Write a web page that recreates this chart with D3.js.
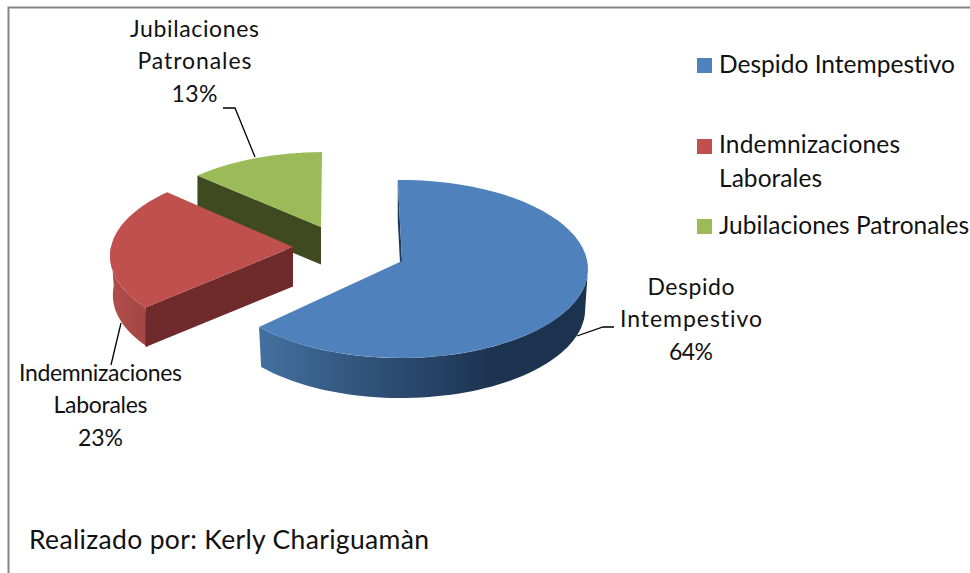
<!DOCTYPE html>
<html><head><meta charset="utf-8">
<script src="https://cdn.jsdelivr.net/npm/d3@7"></script>
<style>html,body{margin:0;padding:0;background:#fff}svg{display:block}text{font-family:Lato,"Open Sans",sans-serif;fill:#111;font-variant-ligatures:none}</style>
</head><body><svg id="c" width="970" height="573"></svg>
<script>
const categories = ["Despido Intempestivo","Indemnizaciones Laborales","Jubilaciones Patronales"];
const values = [64,23,13];
const legendLines = [["Despido Intempestivo"],["Indemnizaciones","Laborales"],["Jubilaciones Patronales"]];
const labelLines = [["Despido","Intempestivo"],["Indemnizaciones","Laborales"],["Jubilaciones","Patronales"]];
const topColors = ["#4f81bd","#c0504d","#9bbb59"];
const wallColors = ["#1f3a5c","#6f2b2c","#3f4a20"];

// per-slice projection of the exploded 3D pie
const geom = [
 {cx:401,cy:269,ax:402,ay:261,A:187,B:89,k:0,d:40},
 {cx:295,cy:247,ax:293,ay:247,A:184,B:87,k:.1,d:39.5},
 {cx:325,cy:227,ax:321,ay:227,A:180,B:80,k:.0675,d:37.5}
];
const rad = Math.PI/180;
const pie = d3.pie().sort(null).startAngle(-1*rad).endAngle(359*rad);
const arcs = pie(values);
const svg = d3.select("#c");
const line = d3.line();
function rim(g,t,low){
  const u=Math.sin(t), v=-Math.cos(t), w=1-g.k*v, s=low?.985:1;
  return [g.cx+s*g.A*u/w, g.cy+g.B*v/w+(low?g.d:0)];
}
function samples(a,b){return d3.range(0,61).map(i=>a+(b-a)*i/60);}

// frame
svg.append("path").attr("d",line([[8.5,573],[8.5,7.5],[970,7.5]])).attr("fill","none").attr("stroke","#868686").attr("stroke-width",2);

// gradients
const defs = svg.append("defs");
function grad(id,x1,x2,stops){
  const g=defs.append("linearGradient").attr("id",id).attr("gradientUnits","userSpaceOnUse")
    .attr("x1",x1).attr("x2",x2).attr("y1",0).attr("y2",0);
  stops.forEach(s=>g.append("stop").attr("offset",s[0]).attr("stop-color",s[1]));
}
grad("gb",261,588,[[0,"#43709f"],[.35,"#2f5078"],[.7,"#1d3451"],[1,"#1c3350"]]);
grad("gr",111,150,[[0,"#b24e4b"],[1,"#a04543"]]);

// draw back to front: green, red, blue
[2,1,0].forEach(i=>{
  const g=geom[i], a=arcs[i], s=a.startAngle, e=a.endAngle;
  const rs=rim(g,s);
  const G=svg.append("g").attr("class","slice");
  // outer wall
  if(i===0){
    const ts=samples(Math.PI/2,e);
    const pts=ts.map(t=>rim(g,t)).concat(ts.slice().reverse().map(t=>rim(g,t,true)));
    G.append("path").attr("d",line(pts)+"Z").attr("fill","url(#gb)");
  }
  if(i===1){
    const ts=samples(s,1.5*Math.PI);
    const pts=ts.map(t=>rim(g,t)).concat(ts.slice().reverse().map(t=>rim(g,t,true)));
    G.append("path").attr("d",line(pts)+"Z").attr("fill","url(#gr)");
  }
  // cut wall
  G.append("path").attr("d",line([rs,[g.ax,g.ay],[g.ax,g.ay+g.d],[rs[0],rs[1]+g.d]])+"Z").attr("fill",wallColors[i]);
  // top
  const top=[[g.ax,g.ay]].concat(samples(s,e).map(t=>rim(g,t)));
  G.append("path").attr("d",line(top)+"Z").attr("fill",topColors[i]);
});

// leaders
const leaders=[[[577,336],[603,327],[614,327]],[[121,323],[111,365]],[[223,108],[235,108],[255,157]]];
leaders.forEach(l=>svg.append("path").attr("d",line(l)).attr("fill","none").attr("stroke","#000").attr("stroke-width",1.3));

// data labels (text widths fitted to the reference)
const labelPos=[{x:691,y:[295,327,360],w:[87,142,44]},{x:100.5,y:[381,413,446],w:[163,94,45]},{x:194.5,y:[37,69,102],w:[129,114,46]}];
labelLines.forEach((ls,i)=>{
  ls.concat([d3.format(".0f")(values[i])+"%"]).forEach((t,j)=>{
    svg.append("text").attr("x",labelPos[i].x).attr("y",labelPos[i].y[j]).attr("text-anchor","middle")
      .attr("font-size",23).attr("textLength",labelPos[i].w[j]).attr("lengthAdjust","spacing").text(t);
  });
});

// legend
const legY=[{s:58,y:[73],w:[236]},{s:139,y:[153,187],w:[181,103]},{s:219,y:[234],w:[250]}];
legendLines.forEach((ls,i)=>{
  svg.append("rect").attr("x",697).attr("y",legY[i].s).attr("width",15).attr("height",15).attr("fill",topColors[i]);
  ls.forEach((t,j)=>svg.append("text").attr("x",719).attr("y",legY[i].y[j]).attr("font-size",24.5)
    .attr("textLength",legY[i].w[j]).attr("lengthAdjust","spacing").text(t));
});

svg.append("text").attr("x",29).attr("y",549).attr("font-size",26.5).attr("textLength",400).attr("lengthAdjust","spacing").text("Realizado por: Kerly Chariguamàn");
</script></body></html>
